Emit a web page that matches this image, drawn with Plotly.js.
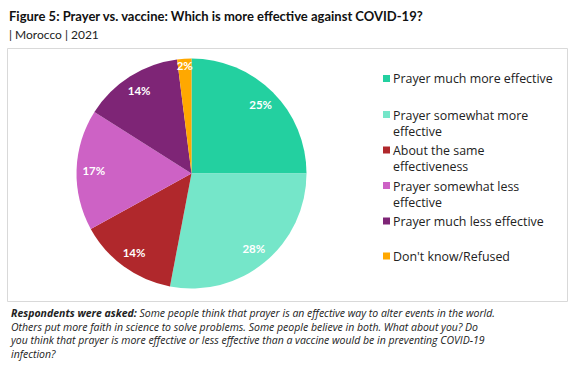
<!DOCTYPE html>
<html>
<head>
<meta charset="utf-8">
<script src="https://cdn.plot.ly/plotly-3.0.1.min.js"></script>
<style>html,body{margin:0;padding:0;background:#fff;}#chart{width:577px;height:368px;}</style>
</head>
<body>
<div id="chart"></div>
<script>
var categories = ["Prayer much more effective", "Prayer somewhat more effective", "About the same effectiveness", "Prayer somewhat less effective", "Prayer much less effective", "Don't know/Refused"];
var legendLabels = ["Prayer much more effective", "Prayer somewhat more<br>effective", "About the same<br>effectiveness", "Prayer somewhat less<br>effective", "Prayer much less effective", "Don't know/Refused"];
var values = [25, 28, 14, 17, 14, 2];
var colors = ["#23D0A0", "#75E6C9", "#B0282C", "#CD62C5", "#7E2576", "#FFA800"];
var noteLines = [
  "<b>Respondents were asked:</b> Some people think that prayer is an effective way to alter events in the world.",
  "Others put more faith in science to solve problems. Some people believe in both. What about you? Do",
  "you think that prayer is more effective or less effective than a vaccine would be in preventing COVID-19",
  "infection?"
];

var W = 577, H = 368;
var FONT = "Lato, 'DejaVu Sans', sans-serif";
var FONT2 = "'Open Sans', 'DejaVu Sans', sans-serif";
var cx = 191.5, cy = 173.5, R = 115;
var dom = {x: [(cx - R) / W, (cx + R) / W], y: [1 - (cy + R) / H, 1 - (cy - R) / H]};

var base = {
  type: "pie", labels: categories, values: values, sort: false, direction: "clockwise", rotation: 0,
  marker: {colors: colors, line: {width: 0}}, textinfo: "none", hoverinfo: "label+percent",
  domain: dom, showlegend: false
};
var labelsTrace = {
  type: "pie", labels: categories, values: values, sort: false, direction: "clockwise", rotation: 0,
  hole: 0.7, marker: {colors: values.map(function(){return "rgba(0,0,0,0)";}), line: {width: 0}},
  texttemplate: "%{value}%", textposition: "inside", insidetextorientation: "horizontal",
  textfont: {family: FONT, size: 11.5, color: "#ffffff", weight: "bold"},
  hoverinfo: "skip", domain: dom, showlegend: false
};

var annotations = [
  {xref: "paper", yref: "paper", x: 7 / W, y: 1 - 6 / H, xanchor: "left", yanchor: "top", showarrow: false,
   text: "<b>Figure 5: Prayer vs. vaccine: Which is more effective against COVID-19?</b>",
   font: {family: FONT, size: 13, color: "#111111"}},
  {xref: "paper", yref: "paper", x: 7 / W, y: 1 - 25 / H, xanchor: "left", yanchor: "top", showarrow: false,
   text: "| Morocco | 2021", font: {family: FONT, size: 12, color: "#222222"}},
  {xref: "paper", yref: "paper", x: 7 / W, y: 1 - 304 / H, xanchor: "left", yanchor: "top", align: "left", showarrow: false,
   text: "<i>" + noteLines.join("<br>") + "</i>", font: {family: FONT2, size: 10.5, color: "#222222"}}
];
var shapes = [
  {type: "rect", xref: "paper", yref: "paper", x0: 7.5 / W, x1: 567.5 / W, y0: 1 - 301.5 / H, y1: 1 - 48.5 / H,
   line: {color: "#d9d9d9", width: 1}, fillcolor: "rgba(0,0,0,0)"}
];
var legendY = [78.5, 114.5, 150, 185.5, 221, 256];
for (var i = 0; i < categories.length; i++) {
  var yTop = legendY[i];
  shapes.push({type: "rect", xref: "paper", yref: "paper", x0: 383 / W, x1: 390 / W,
    y0: 1 - (yTop + 3.5) / H, y1: 1 - (yTop - 3.5) / H, line: {width: 0}, fillcolor: colors[i]});
  annotations.push({xref: "paper", yref: "paper", x: 391 / W, y: 1 - (yTop - 10) / H, xanchor: "left", yanchor: "top",
    align: "left", showarrow: false, text: legendLabels[i], font: {family: FONT2, size: 12.4, color: "#222222"}});
}

var layout = {
  width: W, height: H, margin: {l: 0, r: 0, t: 0, b: 0}, paper_bgcolor: "#ffffff",
  showlegend: false, uniformtext: {minsize: 11, mode: "show"},
  annotations: annotations, shapes: shapes, font: {family: FONT}
};
Plotly.newPlot("chart", [base, labelsTrace], layout, {displayModeBar: false, staticPlot: true});
</script>
</body>
</html>
